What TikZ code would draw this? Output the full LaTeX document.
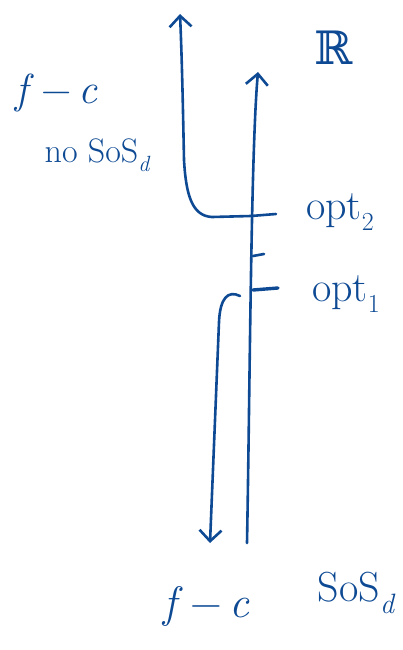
\documentclass[tikz,border=0pt]{standalone}
\usepackage{fontspec}
\newfontfamily\dvs{DejaVu Serif}
\usetikzlibrary{arrows.meta}
\definecolor{ink}{RGB}{14,74,148}
\newcommand{\lowsub}[2]{\raisebox{-0.28em}{\fontsize{#1}{#1}\selectfont #2}}
\tikzset{
  pen/.style={draw=ink, line width=2.6pt, line cap=round, line join=round},
  arr/.style={pen, -{Straight Barb[length=11pt, width=22pt, line width=2.6pt]}},
  lbl/.style={text=ink, inner sep=0pt, anchor=center},
}
\begin{document}
\begin{tikzpicture}[x=1pt, y=-1pt]
\useasboundingbox (0,0) rectangle (402,650);
% coordinates
\coordinate (rbot) at (247,543);
\coordinate (rtop) at (258,72);
\coordinate (o2) at (251,216);
\coordinate (o2t) at (276,214);
\coordinate (mid) at (253,256);
\coordinate (midt) at (264,254);
\coordinate (o1) at (253,290);
\coordinate (o1t) at (278,288);
\coordinate (atop) at (180,14);
\coordinate (dstart) at (240,296);
\coordinate (dbot) at (210,543);
% main real line
\draw[arr] (rbot) .. controls (250,380) and (251,150) .. (rtop);
% upper-left curve
\draw[arr] (o2) -- (212,217) .. controls (192,216) and (186,195) .. (184,160) .. controls (183,110) and (182,60) .. (atop);
% lower curve
\draw[arr] (dstart) .. controls (228,290) and (220,298) .. (219,322) -- (dbot);
% ticks
\draw[pen] (o2) -- (o2t);
\draw[pen] (mid) -- (midt);
\draw[pen, line width=3.4pt] (o1) -- (o1t);
% labels
\node[lbl, font=\dvs\fontsize{46}{50}\selectfont] (R) at (334,48) {ℝ};
\node[lbl, font=\fontsize{42}{46}\selectfont] (opt2) at (340,212) {opt\lowsub{26}{2}};
\node[lbl, font=\fontsize{42}{46}\selectfont] (opt1) at (346,294) {opt\lowsub{26}{1}};
\node[lbl, font=\fontsize{42}{46}\selectfont] (fc1) at (57,93) {\textit{f}\,−\,\textit{c}};
\node[lbl, font=\fontsize{34}{38}\selectfont] (nosos) at (97,155) {no SoS\lowsub{22}{\itshape d}};
\node[lbl, font=\fontsize{44}{48}\selectfont] (fc2) at (207,606) {\textit{f}\,−\,\textit{c}};
\node[lbl, font=\fontsize{42}{46}\selectfont] (sos) at (356,593) {SoS\lowsub{28}{\itshape d}};
\end{tikzpicture}
\end{document}
